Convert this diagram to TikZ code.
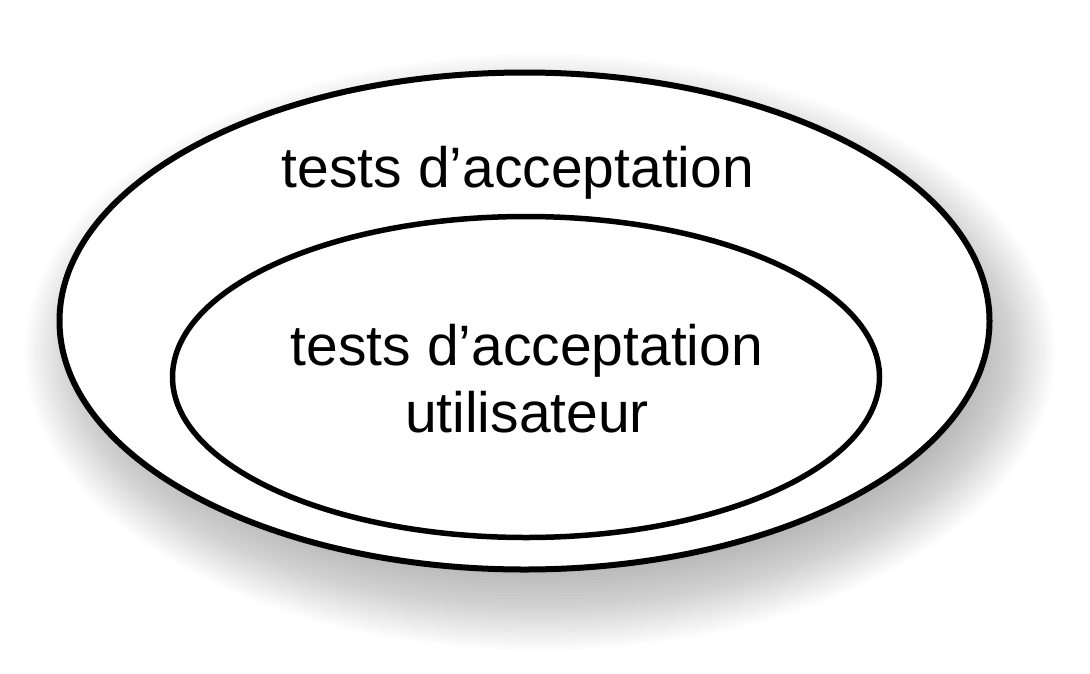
\documentclass[tikz,border=0pt]{standalone}
\usepackage{fontspec}
\setmainfont{Liberation Sans}
\begin{document}
\begin{tikzpicture}[x=1pt,y=-1pt,
  ring/.style={draw=black,line width=6pt,fill=white},
  lbl/.style={font=\fontsize{57}{67}\selectfont,align=center,inner sep=0pt}]
\useasboundingbox (0,0) rectangle (1090,673);
% soft shadow
\foreach \i in {0,...,26}{
  \pgfmathsetmacro{\d}{50-3*\i}
  \fill[black,opacity=0.013] (540,352) ellipse ({465+\d} and {248.5+\d});
}
\draw[ring] (524.5,321) ellipse (465 and 248.5);
\draw[ring,line width=5.5pt] (526,377) ellipse (353.5 and 160.5);
\node[lbl,anchor=base] (outerlbl) at (518,187) {tests d’acceptation};
\node[lbl,anchor=base] (innerlbl) at (527,432) {tests d’acceptation\\utilisateur};
\end{tikzpicture}
\end{document}
